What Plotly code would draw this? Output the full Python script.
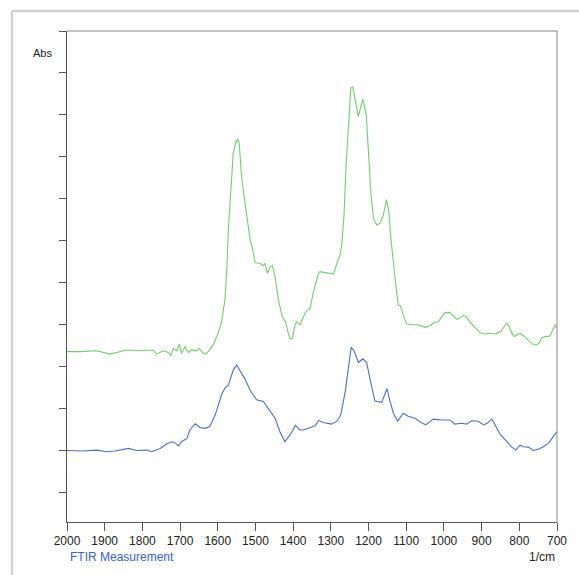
import plotly.graph_objects as go

# Green spectrum (upper)
green_wn = [2000, 1966, 1921, 1886, 1842, 1806, 1771, 1762, 1745, 1731, 1725, 1718, 1709, 1702, 1696,
            1687, 1678, 1669, 1656, 1649, 1640, 1631, 1622, 1612, 1599, 1590, 1581, 1576, 1572, 1565,
            1559, 1552, 1547, 1543, 1537, 1530, 1522, 1514, 1508, 1501, 1488, 1479, 1475, 1468, 1461,
            1455, 1448, 1439, 1429, 1420, 1413, 1408, 1402, 1395, 1391, 1382, 1373, 1364, 1355, 1347,
            1333, 1329, 1311, 1293, 1284, 1276, 1271, 1265, 1260, 1254, 1247, 1242, 1236, 1227, 1221,
            1215, 1206, 1201, 1194, 1187, 1178, 1170, 1161, 1152, 1146, 1140, 1134, 1127, 1121, 1115,
            1108, 1099, 1081, 1068, 1050, 1037, 1024, 1015, 1006, 997, 984, 975, 966, 957, 949,
            940, 931, 918, 904, 891, 878, 864, 849, 840, 833, 827, 820, 813, 807, 798,
            789, 776, 765, 754, 748, 741, 732, 719, 710, 705, 700]
green_abs = [0.335, 0.335, 0.337, 0.329, 0.339, 0.337, 0.339, 0.329, 0.337, 0.333, 0.325, 0.343, 0.337, 0.353, 0.331,
             0.347, 0.333, 0.339, 0.337, 0.343, 0.332, 0.329, 0.339, 0.351, 0.379, 0.406, 0.458, 0.530, 0.625, 0.729,
             0.808, 0.836, 0.842, 0.832, 0.753, 0.705, 0.657, 0.601, 0.582, 0.547, 0.546, 0.540, 0.546, 0.522, 0.538,
             0.540, 0.514, 0.458, 0.418, 0.406, 0.379, 0.365, 0.367, 0.399, 0.406, 0.399, 0.418, 0.433, 0.438, 0.474,
             0.522, 0.526, 0.523, 0.520, 0.546, 0.566, 0.589, 0.661, 0.773, 0.876, 0.964, 0.967, 0.938, 0.896, 0.918,
             0.938, 0.900, 0.812, 0.717, 0.653, 0.637, 0.641, 0.660, 0.698, 0.668, 0.599, 0.539, 0.488, 0.446, 0.444,
             0.422, 0.401, 0.399, 0.399, 0.393, 0.397, 0.405, 0.406, 0.418, 0.428, 0.428, 0.420, 0.412, 0.416, 0.421,
             0.418, 0.406, 0.393, 0.380, 0.377, 0.379, 0.377, 0.383, 0.395, 0.403, 0.395, 0.379, 0.371, 0.375, 0.379,
             0.373, 0.361, 0.353, 0.351, 0.355, 0.367, 0.371, 0.372, 0.387, 0.399, 0.391]

# Blue spectrum (lower)
blue_wn = [2000, 1957, 1921, 1895, 1873, 1837, 1815, 1789, 1775, 1753, 1735, 1722, 1713, 1705, 1696,
           1682, 1674, 1660, 1647, 1634, 1621, 1606, 1590, 1581, 1572, 1559, 1550, 1542, 1528, 1514,
           1497, 1479, 1466, 1448, 1435, 1422, 1413, 1407, 1394, 1382, 1373, 1360, 1342, 1332, 1320,
           1298, 1284, 1274, 1262, 1253, 1246, 1238, 1227, 1215, 1205, 1195, 1183, 1165, 1157, 1151,
           1144, 1134, 1123, 1117, 1108, 1095, 1077, 1059, 1048, 1037, 1028, 1006, 984, 971, 953,
           940, 926, 909, 895, 885, 873, 864, 851, 833, 820, 809, 798, 789, 776, 763,
           750, 736, 723, 710, 700]
blue_abs = [0.099, 0.098, 0.100, 0.096, 0.098, 0.104, 0.099, 0.100, 0.096, 0.104, 0.115, 0.120, 0.117, 0.110, 0.120,
            0.128, 0.148, 0.163, 0.154, 0.152, 0.156, 0.186, 0.232, 0.248, 0.255, 0.291, 0.303, 0.290, 0.270, 0.243,
            0.220, 0.216, 0.198, 0.176, 0.144, 0.120, 0.131, 0.138, 0.159, 0.148, 0.148, 0.153, 0.158, 0.171, 0.166,
            0.162, 0.169, 0.183, 0.239, 0.299, 0.345, 0.336, 0.309, 0.318, 0.309, 0.265, 0.217, 0.214, 0.232, 0.247,
            0.220, 0.188, 0.169, 0.176, 0.188, 0.181, 0.176, 0.165, 0.160, 0.168, 0.174, 0.172, 0.172, 0.162, 0.164,
            0.162, 0.170, 0.169, 0.160, 0.164, 0.174, 0.160, 0.138, 0.120, 0.107, 0.100, 0.112, 0.108, 0.107, 0.099,
            0.102, 0.108, 0.116, 0.132, 0.144]

x_ticks = [2000, 1900, 1800, 1700, 1600, 1500, 1400, 1300, 1200, 1100, 1000, 900, 800, 700]
y_ticks = [0.0, 0.1, 0.2, 0.3, 0.4, 0.5, 0.6, 0.7, 0.8, 0.9, 1.0, 1.1]

fig = go.Figure()
fig.add_trace(go.Scatter(x=green_wn, y=green_abs, mode="lines",
                         line=dict(color="#76cb72", width=1.1), showlegend=False))
fig.add_trace(go.Scatter(x=blue_wn, y=blue_abs, mode="lines",
                         line=dict(color="#4d6fc2", width=1.1), showlegend=False))

fig.update_layout(
    width=579, height=575,
    margin=dict(l=67, r=22, t=31, b=53),
    paper_bgcolor="white", plot_bgcolor="white",
    font=dict(family="Liberation Sans, Arial, sans-serif", size=12, color="#222"),
    xaxis=dict(range=[2000, 700], tickvals=x_ticks, ticktext=[str(v) for v in x_ticks],
               showgrid=False, zeroline=False, showline=True, linecolor="#555", linewidth=1,
               ticks="outside", ticklen=8, tickcolor="#555", tickfont=dict(size=12, color="#222")),
    yaxis=dict(range=[-0.0716, 1.1002], tickvals=y_ticks, showticklabels=False,
               showgrid=False, zeroline=False, showline=True, linecolor="#555", linewidth=1,
               ticks="outside", ticklen=7, tickcolor="#555"),
)

# plot frame (top and right)
fig.add_shape(type="line", xref="paper", yref="paper", x0=0, x1=1, y0=1, y1=1,
              line=dict(color="#8a8a8a", width=1))
fig.add_shape(type="line", xref="paper", yref="paper", x0=1, x1=1, y0=0, y1=1,
              line=dict(color="#8a8a8a", width=1))
# outer light frame
fig.add_shape(type="line", xref="paper", yref="paper", x0=-0.1122, x1=1.1, y0=1.0407, y1=1.0407,
              line=dict(color="#d2d2d2", width=2.5))
fig.add_shape(type="line", xref="paper", yref="paper", x0=-0.1122, x1=-0.1122, y0=-0.12, y1=1.0407,
              line=dict(color="#d2d2d2", width=2.5))

fig.add_annotation(text="Abs", xref="paper", yref="paper", x=-0.049, y=0.956,
                   showarrow=False, font=dict(size=11, color="#222"), xanchor="center", yanchor="middle")
fig.add_annotation(text="FTIR Measurement", xref="paper", yref="paper", x=0.002, y=-0.071,
                   showarrow=False, font=dict(size=12, color="#3a62c8"), xanchor="left", yanchor="middle")
fig.add_annotation(text="1/cm", xref="paper", yref="paper", x=1.0, y=-0.071,
                   showarrow=False, font=dict(size=12, color="#222"), xanchor="right", yanchor="middle")

fig.write_html("out.html", config={"displayModeBar": False},
               post_script="document.body.style.margin='0px';document.body.style.padding='0px';")
